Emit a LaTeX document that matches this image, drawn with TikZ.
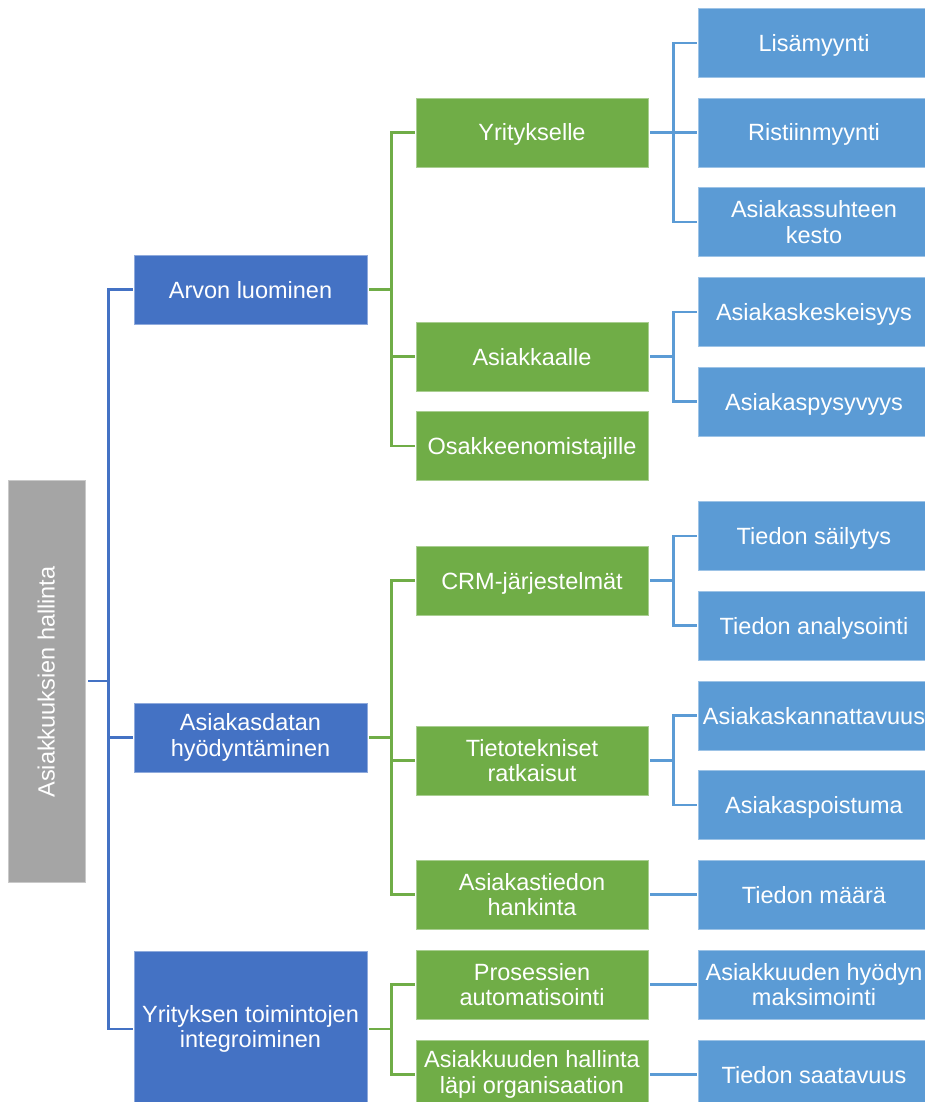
\documentclass[tikz,border=0pt]{standalone}
\usepackage{fontspec}
\setmainfont{Liberation Sans}
\definecolor{dblue}{HTML}{4472C4}
\definecolor{lgreen}{HTML}{70AD47}
\definecolor{lblue}{HTML}{5B9BD5}
\definecolor{rgray}{HTML}{A5A5A5}
\begin{document}
\begin{tikzpicture}[x=1pt,y=-1pt,
  box/.style={rectangle, inner sep=2pt, align=center, text=white,
    font=\fontsize{23.5}{25.5}\selectfont, minimum height=69pt, line width=0.8pt},
  oneline/.style={text height=17pt, text depth=0pt},
  rootbox/.style={rectangle, fill=rgray, draw=rgray!60!white, line width=0.8pt,
    minimum width=77pt, minimum height=402pt, inner sep=0pt},
  lvlone/.style={box, fill=dblue, draw=dblue!60!white, minimum width=233pt},
  lvltwo/.style={box, fill=lgreen, draw=lgreen!60!white, minimum width=232pt},
  lvlthree/.style={box, fill=lblue, draw=lblue!60!white, minimum width=232pt},
  conn/.style={line width=2.6pt},
  connone/.style={conn, draw=dblue},
  conntwo/.style={conn, draw=lgreen},
  connthree/.style={conn, draw=lblue}]
\fill[white] (0,0) rectangle (925,1102);
\useasboundingbox (0,0) rectangle (925,1102);
\clip (0,0) rectangle (925,1102);

% root
\node[rootbox] (root) at (46.5,681) {};
\node[rotate=90, text=white, font=\fontsize{23.5}{25.5}\selectfont, inner sep=0pt, oneline] (rootlabel) at (46,682) {Asiakkuuksien hallinta};

% level 1
\node[lvlone, oneline] (A1) at (250.5,289.5) {Arvon luominen};
\node[lvlone] (A2) at (250.5,737.5) {Asiakasdatan\\hyödyntäminen};
\node[lvlone, minimum height=156pt] (A3) at (250.5,1029) {Yrityksen toimintojen\\integroiminen};

% level 2
\node[lvltwo, oneline] (B1) at (532,132.5) {Yritykselle};
\node[lvltwo, oneline] (B2) at (532,356.5) {Asiakkaalle};
\node[lvltwo, oneline] (B3) at (532,446) {Osakkeenomistajille};
\node[lvltwo, oneline] (B4) at (532,580.5) {CRM-järjestelmät};
\node[lvltwo] (B5) at (532,760.5) {Tietotekniset\\ratkaisut};
\node[lvltwo] (B6) at (532,894.5) {Asiakastiedon\\hankinta};
\node[lvltwo] (B7) at (532,984.5) {Prosessien\\automatisointi};
\node[lvltwo] (B8) at (532,1074.5) {Asiakkuuden hallinta\\läpi organisaation};

% level 3
\node[lvlthree, oneline] (C1) at (814,43) {Lisämyynti};
\node[lvlthree, oneline] (C2) at (814,132.5) {Ristiinmyynti};
\node[lvlthree] (C3) at (814,222) {Asiakassuhteen\\kesto};
\node[lvlthree, oneline] (C4) at (814,312) {Asiakaskeskeisyys};
\node[lvlthree, oneline] (C5) at (814,401.5) {Asiakaspysyvyys};
\node[lvlthree, oneline] (C6) at (814,536) {Tiedon säilytys};
\node[lvlthree, oneline] (C7) at (814,625.5) {Tiedon analysointi};
\node[lvlthree, oneline] (C8) at (814,715.5) {Asiakaskannattavuus};
\node[lvlthree, oneline] (C9) at (814,805) {Asiakaspoistuma};
\node[lvlthree, oneline] (C10) at (814,894.5) {Tiedon määrä};
\node[lvlthree] (C11) at (814,984.5) {Asiakkuuden hyödyn\\maksimointi};
\node[lvlthree, oneline] (C12) at (814,1074.5) {Tiedon saatavuus};

% connectors root -> level 1
\foreach \c in {A1,A2,A3}
  \draw[connone] ([xshift=3pt]root.east) -- ++(20,0) |- ([xshift=-1pt]\c.west);

% level 1 -> level 2
\foreach \c in {B1,B2,B3}
  \draw[conntwo] ([xshift=2pt]A1.east) -- ++(22,0) |- ([xshift=-1pt]\c.west);
\foreach \c in {B4,B5,B6}
  \draw[conntwo] ([xshift=2pt]A2.east) -- ++(22,0) |- ([xshift=-1pt]\c.west);
\foreach \c in {B7,B8}
  \draw[conntwo] ([xshift=2pt]A3.east) -- ++(22,0) |- ([xshift=-1pt]\c.west);

% level 2 -> level 3
\foreach \c in {C1,C2,C3}
  \draw[connthree] ([xshift=2pt]B1.east) -- ++(23,0) |- ([xshift=-1pt]\c.west);
\foreach \c in {C4,C5}
  \draw[connthree] ([xshift=2pt]B2.east) -- ++(23,0) |- ([xshift=-1pt]\c.west);
\foreach \c in {C6,C7}
  \draw[connthree] ([xshift=2pt]B4.east) -- ++(23,0) |- ([xshift=-1pt]\c.west);
\foreach \c in {C8,C9}
  \draw[connthree] ([xshift=2pt]B5.east) -- ++(23,0) |- ([xshift=-1pt]\c.west);
\draw[connthree] ([xshift=2pt]B6.east) -- ([xshift=-1pt]C10.west);
\draw[connthree] ([xshift=2pt]B7.east) -- ([xshift=-1pt]C11.west);
\draw[connthree] ([xshift=2pt]B8.east) -- ([xshift=-1pt]C12.west);
\end{tikzpicture}
\end{document}
